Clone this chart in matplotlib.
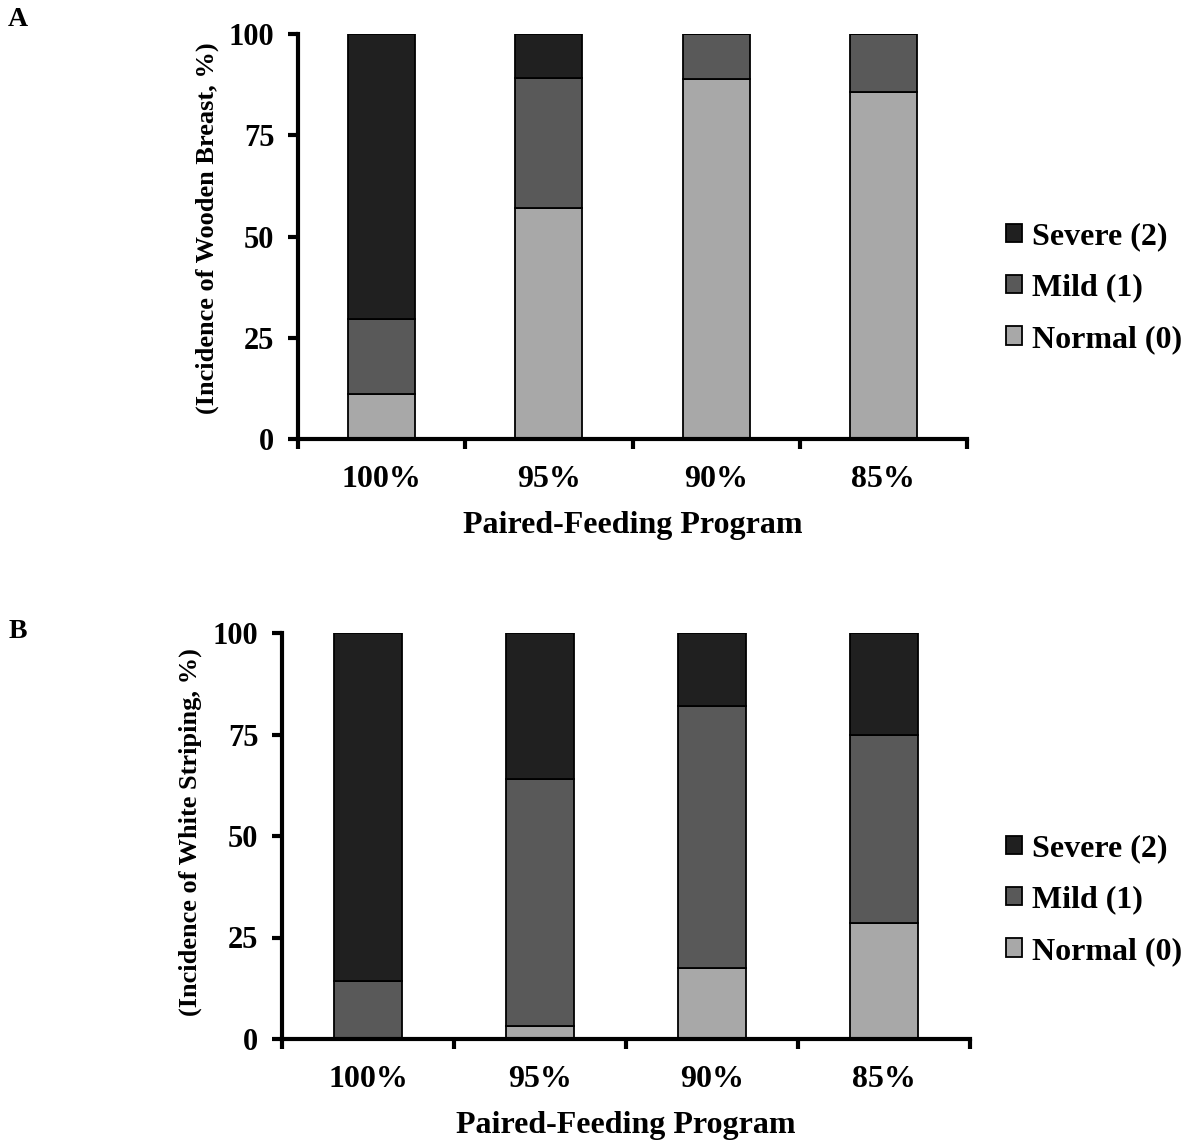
import numpy as np
import matplotlib
matplotlib.use("Agg")
import matplotlib.pyplot as plt
from matplotlib.patches import Patch

plt.rcParams["font.family"] = ["Liberation Serif", "DejaVu Serif"]
plt.rcParams["font.weight"] = "bold"

programs = ["100%", "95%", "90%", "85%"]
grades = ["Severe (2)", "Mild (1)", "Normal (0)"]
colors = {"Severe (2)": "#202020", "Mild (1)": "#595959", "Normal (0)": "#a8a8a8"}

# Wooden breast incidence (%)
wb_normal = [11.1, 57.1, 88.9, 85.7]
wb_mild = [18.5, 32.0, 11.1, 14.3]
wb_severe = [70.4, 10.9, 0.0, 0.0]

# White striping incidence (%)
ws_normal = [0.0, 3.3, 17.6, 28.6]
ws_mild = [14.3, 60.8, 64.4, 46.4]
ws_severe = [85.7, 35.9, 18.0, 25.0]

W, H = 1197, 1141
fig = plt.figure(figsize=(W / 100, H / 100), dpi=100)


def px_axes(x0, x1, y0, y1):
    return fig.add_axes([x0 / W, 1 - y1 / H, (x1 - x0) / W, (y1 - y0) / H])


def panel(ax, normal, mild, severe):
    x = np.arange(len(programs))
    normal = np.array(normal)
    mild = np.array(mild)
    severe = np.array(severe)
    kw = dict(width=0.4, edgecolor="black", linewidth=1.3, zorder=2)
    ax.bar(x, normal, color=colors["Normal (0)"], **kw)
    ax.bar(x, mild, bottom=normal, color=colors["Mild (1)"], **kw)
    ax.bar(x, severe, bottom=normal + mild, color=colors["Severe (2)"], **kw)

    ax.set_xlim(-0.5, 3.5)
    ax.set_ylim(0, 100)
    ax.set_yticks([0, 25, 50, 75, 100])
    ax.set_xticks(x)
    ax.set_xticklabels(programs)
    ax.set_xticks(np.arange(-0.5, 4.0, 1.0), minor=True)
    ax.tick_params(axis="x", which="major", length=0, pad=19, labelsize=23)
    ax.tick_params(axis="x", which="minor", length=7, width=3, direction="out")
    ax.tick_params(axis="y", length=7, width=3, direction="out", pad=10, labelsize=22)
    for lab in ax.get_xticklabels() + ax.get_yticklabels():
        lab.set_fontweight("bold")
    for s in ["top", "right"]:
        ax.spines[s].set_visible(False)
    for s in ["left", "bottom"]:
        ax.spines[s].set_linewidth(3)
    ax.set_xlabel("Paired-Feeding Program", fontsize=23, fontweight="bold", labelpad=12)


handles = [Patch(facecolor=colors[g], edgecolor="black", linewidth=1.3, label=g) for g in grades]
leg_kw = dict(loc="center left", frameon=False, handlelength=0.5, handleheight=0.5,
              handletextpad=0.3, labelspacing=0.7, borderaxespad=0, borderpad=0,
              prop={"weight": "bold", "size": 23})

# Panel A
axA = px_axes(298, 967, 34, 439)
panel(axA, wb_normal, wb_mild, wb_severe)
fig.text(207 / W, 1 - 228 / H, "(Incidence of Wooden Breast, %)", rotation=90,
         ha="center", va="center", fontsize=19, fontweight="bold")
fig.text(18 / W, 1 - 19 / H, "A", ha="center", va="center", fontsize=20, fontweight="bold")
fig.legend(handles=handles, bbox_to_anchor=(1006 / W, 1 - 288 / H), **leg_kw)

# Panel B
axB = px_axes(282, 970, 633, 1039)
panel(axB, ws_normal, ws_mild, ws_severe)
fig.text(190 / W, 1 - 832 / H, "(Incidence of White Striping, %)", rotation=90,
         ha="center", va="center", fontsize=19, fontweight="bold")
fig.text(18 / W, 1 - 632 / H, "B", ha="center", va="center", fontsize=20, fontweight="bold")
fig.legend(handles=handles, bbox_to_anchor=(1006 / W, 1 - 900 / H), **leg_kw)

fig.savefig("out.png", dpi=100)
